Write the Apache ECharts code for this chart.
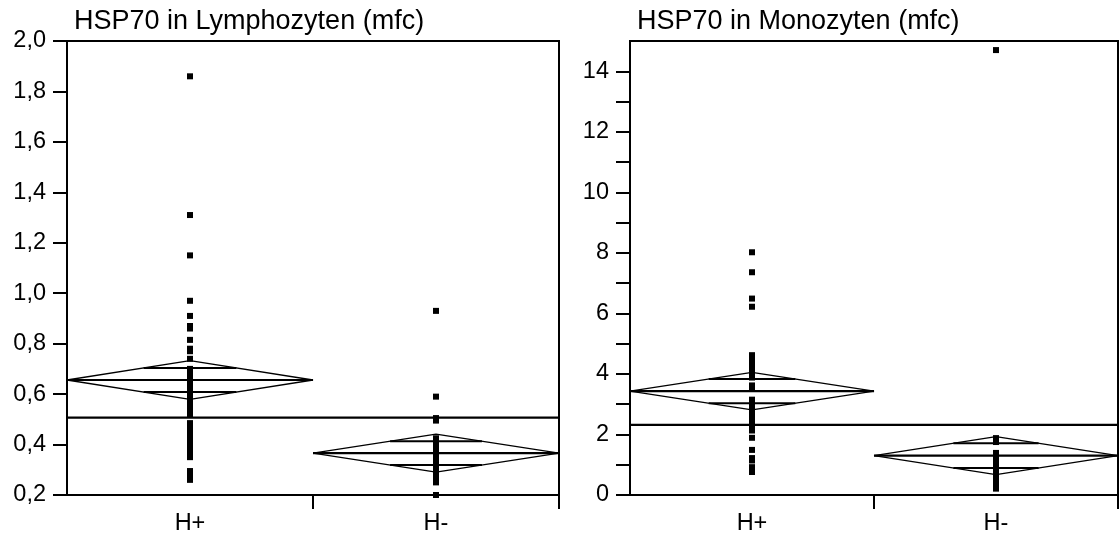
<!DOCTYPE html>
<html>
<head>
<meta charset="utf-8">
<script src="https://cdn.jsdelivr.net/npm/echarts@6/dist/echarts.min.js"></script>
<style>html,body{margin:0;padding:0;background:#fff}#c{width:1119px;height:538px}</style>
</head>
<body>
<div id="c"></div>
<script>
// ---- data ----
const categories = ['H+', 'H-'];
const titles = ['HSP70 in Lymphozyten (mfc)', 'HSP70 in Monozyten (mfc)'];

const lymphHplus = [1.86, 1.31, 1.15, 0.97, 0.91, 0.87, 0.86, 0.815, 0.78, 0.77, 0.74,
  0.70, 0.68, 0.66, 0.64, 0.63, 0.61, 0.59, 0.57, 0.55, 0.53, 0.52,
  0.485, 0.47, 0.45, 0.43, 0.41, 0.39, 0.37, 0.35, 0.295, 0.28, 0.26];
const lymphHminus = [0.93, 0.59, 0.505, 0.495, 0.425, 0.41, 0.39, 0.37, 0.355, 0.34,
  0.32, 0.30, 0.29, 0.285, 0.27, 0.25, 0.20];
const monoHplus = [8.02, 7.36, 6.49, 6.22, 4.62, 4.5, 4.4, 4.3, 4.2, 4.1, 3.98, 3.88,
  3.62, 3.52, 3.15, 3.05, 2.95, 2.85, 2.75, 2.65, 2.55, 2.45, 2.35, 2.25, 2.13,
  1.89, 1.49, 1.22, 1.14, 0.92, 0.76];
const monoHminus = [14.70, 1.88, 1.75, 1.39, 1.28, 1.17, 1.06, 1.0, 0.95, 0.84, 0.73,
  0.62, 0.51, 0.40, 0.30, 0.21];

// group means, CI half-widths (diamond), overlap-mark offsets, grand means
const lymphMean = [0.656, 0.366];
const lymphCI = [0.077, 0.075];
const lymphOvl = [0.048, 0.047];
const lymphGrand = 0.507;
const monoMean = [3.43, 1.30];
const monoCI = [0.62, 0.63];
const monoOvl = [0.40, 0.41];
const monoGrand = 2.32;

const lymphTicks = {min: 0.2, max: 2.0, interval: 0.2};
const monoTicks = {min: 0, max: 15, interval: 1, labelStep: 2};

// ---- build ----
const FONT = 'Liberation Sans';
const K = '#000';
const LABEL_SIZE = 23.5;

function diamondSeries(gi, means, cis, ovls) {
  const out = [];
  means.forEach((m, i) => {
    const c = i + 0.5, L = i, R = i + 1, h = cis[i];
    out.push({type: 'line', xAxisIndex: gi, yAxisIndex: gi, symbol: 'none', silent: true,
      lineStyle: {color: K, width: 1.3}, z: 3,
      data: [[L, m], [c, m + h], [R, m], [c, m - h], [L, m]]});
    out.push({type: 'line', xAxisIndex: gi, yAxisIndex: gi, symbol: 'none', silent: true,
      lineStyle: {color: K, width: 2.2}, z: 3, data: [[L, m], [R, m]]});
    [1, -1].forEach(s => {
      const d = ovls[i];
      const hw = 0.5 * (1 - d / h);
      out.push({type: 'line', xAxisIndex: gi, yAxisIndex: gi, symbol: 'none', silent: true,
        lineStyle: {color: K, width: 2}, z: 3,
        data: [[c - hw, m + s * d], [c + hw, m + s * d]]});
    });
  });
  return out;
}
function grandSeries(gi, g) {
  return {type: 'line', xAxisIndex: gi, yAxisIndex: gi, symbol: 'none', silent: true,
    lineStyle: {color: K, width: 2.2}, z: 3, data: [[0, g], [2, g]]};
}
function pointsSeries(gi, idx, vals) {
  return {type: 'scatter', xAxisIndex: gi, yAxisIndex: gi, symbol: 'rect', symbolSize: 6,
    itemStyle: {color: K, opacity: 1}, z: 5, data: vals.map(v => [idx + 0.5, v])};
}
function xAxis(gi) {
  return {type: 'value', gridIndex: gi, min: 0, max: categories.length,
    axisLine: {show: true, onZero: false, lineStyle: {color: K, width: 2}},
    axisTick: {show: true, customValues: [1, 2], length: 14, lineStyle: {color: K, width: 2}},
    axisLabel: {customValues: categories.map((c, i) => i + 0.5), margin: 17,
      color: K, fontFamily: FONT, fontSize: LABEL_SIZE,
      formatter: v => categories[Math.round(v - 0.5)]},
    splitLine: {show: false}};
}

const option = {
  animation: false,
  backgroundColor: '#fff',
  title: [
    {text: titles[0], left: 69, top: 3, textStyle: {fontFamily: FONT, fontSize: 27, fontWeight: 'normal', color: K}},
    {text: titles[1], left: 632, top: 3, textStyle: {fontFamily: FONT, fontSize: 27, fontWeight: 'normal', color: K}}
  ],
  grid: [
    {left: 67, right: 560, top: 41, bottom: 43, show: true, borderColor: K, borderWidth: 2, backgroundColor: 'transparent'},
    {left: 630, right: 1, top: 41, bottom: 43, show: true, borderColor: K, borderWidth: 2, backgroundColor: 'transparent'}
  ],
  xAxis: [xAxis(0), xAxis(1)],
  yAxis: [
    {type: 'value', gridIndex: 0, min: lymphTicks.min, max: lymphTicks.max, interval: lymphTicks.interval,
      axisLine: {show: true, lineStyle: {color: K, width: 2}},
      axisTick: {show: true, length: 14, lineStyle: {color: K, width: 2}},
      axisLabel: {color: K, fontFamily: FONT, fontSize: LABEL_SIZE, margin: 21,
        formatter: v => Number(v).toFixed(1).replace('.', ',')},
      splitLine: {show: false}},
    {type: 'value', gridIndex: 1, min: monoTicks.min, max: monoTicks.max, interval: monoTicks.interval,
      axisLine: {show: true, lineStyle: {color: K, width: 2}},
      axisTick: {show: true, length: 14, lineStyle: {color: K, width: 2}},
      axisLabel: {color: K, fontFamily: FONT, fontSize: LABEL_SIZE, margin: 21, showMaxLabel: false,
        formatter: v => (Math.round(v) % monoTicks.labelStep === 0 && v < monoTicks.max) ? String(Math.round(v)) : ''},
      splitLine: {show: false}}
  ],
  series: [
    ...diamondSeries(0, lymphMean, lymphCI, lymphOvl),
    grandSeries(0, lymphGrand),
    pointsSeries(0, 0, lymphHplus),
    pointsSeries(0, 1, lymphHminus),
    ...diamondSeries(1, monoMean, monoCI, monoOvl),
    grandSeries(1, monoGrand),
    pointsSeries(1, 0, monoHplus),
    pointsSeries(1, 1, monoHminus)
  ]
};
const chart = echarts.init(document.getElementById('c'), null, {renderer: 'canvas'});
chart.setOption(option);
</script>
</body>
</html>
